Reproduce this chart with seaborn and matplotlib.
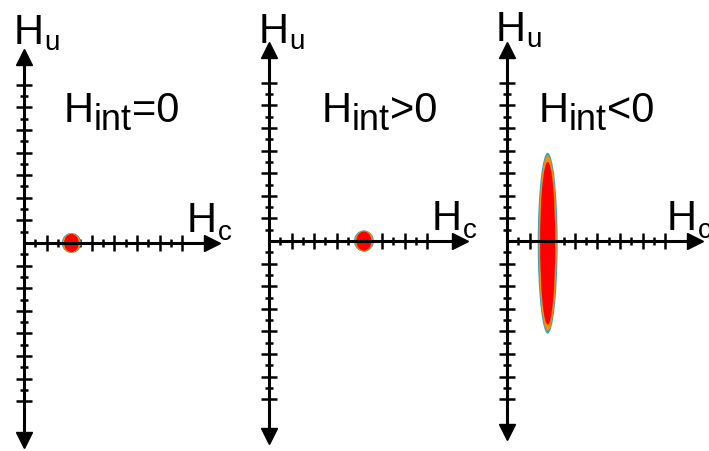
import numpy as np
import matplotlib
matplotlib.use("Agg")
import matplotlib.pyplot as plt
from matplotlib.patches import Ellipse
import seaborn as sns

# Field-distribution sketch: H_c / H_u plane for three interaction cases
titles = ["=0", ">0", "<0"]
hc_center = [2.1, 4.2, 1.8]          # peak position along H_c
hu_center = [0.0, 0.0, -0.1]         # peak position along H_u
hc_halfwidth = [0.43, 0.44, 0.44]    # spread along H_c
hu_halfwidth = [0.44, 0.47, 4.0]     # spread along H_u
major_ticks = [1, 2, 3, 4, 5, 6, 7]
minor_ticks = [0.5, 1.5, 2.5, 3.5, 4.5, 5.5, 6.5]

sns.set_theme(style="white")
plt.rcParams["font.family"] = ["Liberation Sans", "DejaVu Sans"]

W, H = 709, 451
fig = plt.figure(figsize=(W / 100, H / 100), dpi=100)
fig.patch.set_facecolor("white")
renderer = fig.canvas.get_renderer()

UNIT = 22.6  # pixels per tick unit
panels = [
    dict(x0=0, x1=240, ox=24, oy=243, top=8.55, bottom=-9.05, right=8.67),
    dict(x0=240, x1=480, ox=269, oy=241, top=8.76, bottom=-8.94, right=8.76),
    dict(x0=480, x1=709, ox=507, oy=241, top=8.8, bottom=-8.8, right=8.63),
]

# shading layers from rim to core: (scale of width, scale of height, colour)
layers = [(1.0, 1.0, "#2ea3c8"), (0.9, 0.97, "#ff8c00"), (0.76, 0.9, "#ff0000")]

head = 0.33  # arrowhead half length in units
for i, p in enumerate(panels):
    ax = fig.add_axes([p["x0"] / W, 0, (p["x1"] - p["x0"]) / W, 1])
    ax.set_xlim((p["x0"] - p["ox"]) / UNIT, (p["x1"] - p["ox"]) / UNIT)
    ax.set_ylim((p["oy"] - H) / UNIT, p["oy"] / UNIT)
    ax.patch.set_visible(False)
    for s in ("top", "right"):
        ax.spines[s].set_visible(False)
    ax.spines["left"].set_position(("data", 0))
    ax.spines["bottom"].set_position(("data", 0))
    for s in ("left", "bottom"):
        ax.spines[s].set_linewidth(2.2)
        ax.spines[s].set_color("black")
    ax.spines["left"].set_bounds(p["bottom"] + head, p["top"] - head)
    ax.spines["bottom"].set_bounds(0, p["right"] - head)

    ax.set_xticks(major_ticks)
    ax.set_xticks(minor_ticks, minor=True)
    ax.set_yticks([-t for t in major_ticks] + major_ticks)
    ax.set_yticks([-t for t in minor_ticks] + minor_ticks, minor=True)
    ax.tick_params(which="both", direction="inout", color="black",
                   bottom=True, left=True, top=False, right=False,
                   labelbottom=False, labelleft=False, width=1.8)
    ax.tick_params(which="major", length=12)
    ax.tick_params(which="minor", length=6)

    # arrowheads
    ax.plot([0], [p["top"] - head], marker="^", ms=11, color="black", clip_on=False)
    ax.plot([0], [p["bottom"] + head], marker="v", ms=11, color="black", clip_on=False)
    ax.plot([p["right"] - head], [0], marker=">", ms=11, color="black", clip_on=False)

    # distribution peak
    for sw, sh, col in layers:
        ax.add_patch(Ellipse((hc_center[i], hu_center[i]),
                             2 * hc_halfwidth[i] * sw, 2 * hu_halfwidth[i] * sh,
                             facecolor=col, edgecolor="none", zorder=1))


def label(x, y, pieces):
    """Write consecutive text pieces; each is (text, size, baseline drop, gap)."""
    for s, size, drop, gap in pieces:
        t = fig.text((x + gap) / W, 1 - (y + drop) / H, s, fontsize=size,
                     va="baseline", ha="left", color="black")
        x = t.get_window_extent(renderer).x1


MAIN, SUB_INT, SUB = 30, 26, 20
# H_u labels
for (x, y) in [(14, 44), (259, 43), (496, 41)]:
    label(x, y, [("H", MAIN, 0, 0), ("u", SUB, 6, 0)])
# H_c labels
for (x, y) in [(187, 232), (432, 230), (667, 230)]:
    label(x, y, [("H", MAIN, 0, 0), ("c", SUB, 8, 1)])
# interaction labels
for x, t in zip([64, 322, 539], titles):
    label(x, 122, [("H", MAIN, 0, 0), ("int", SUB_INT, 8, 0), (t, MAIN, 0, 0)])

fig.savefig("out.png", dpi=100)
